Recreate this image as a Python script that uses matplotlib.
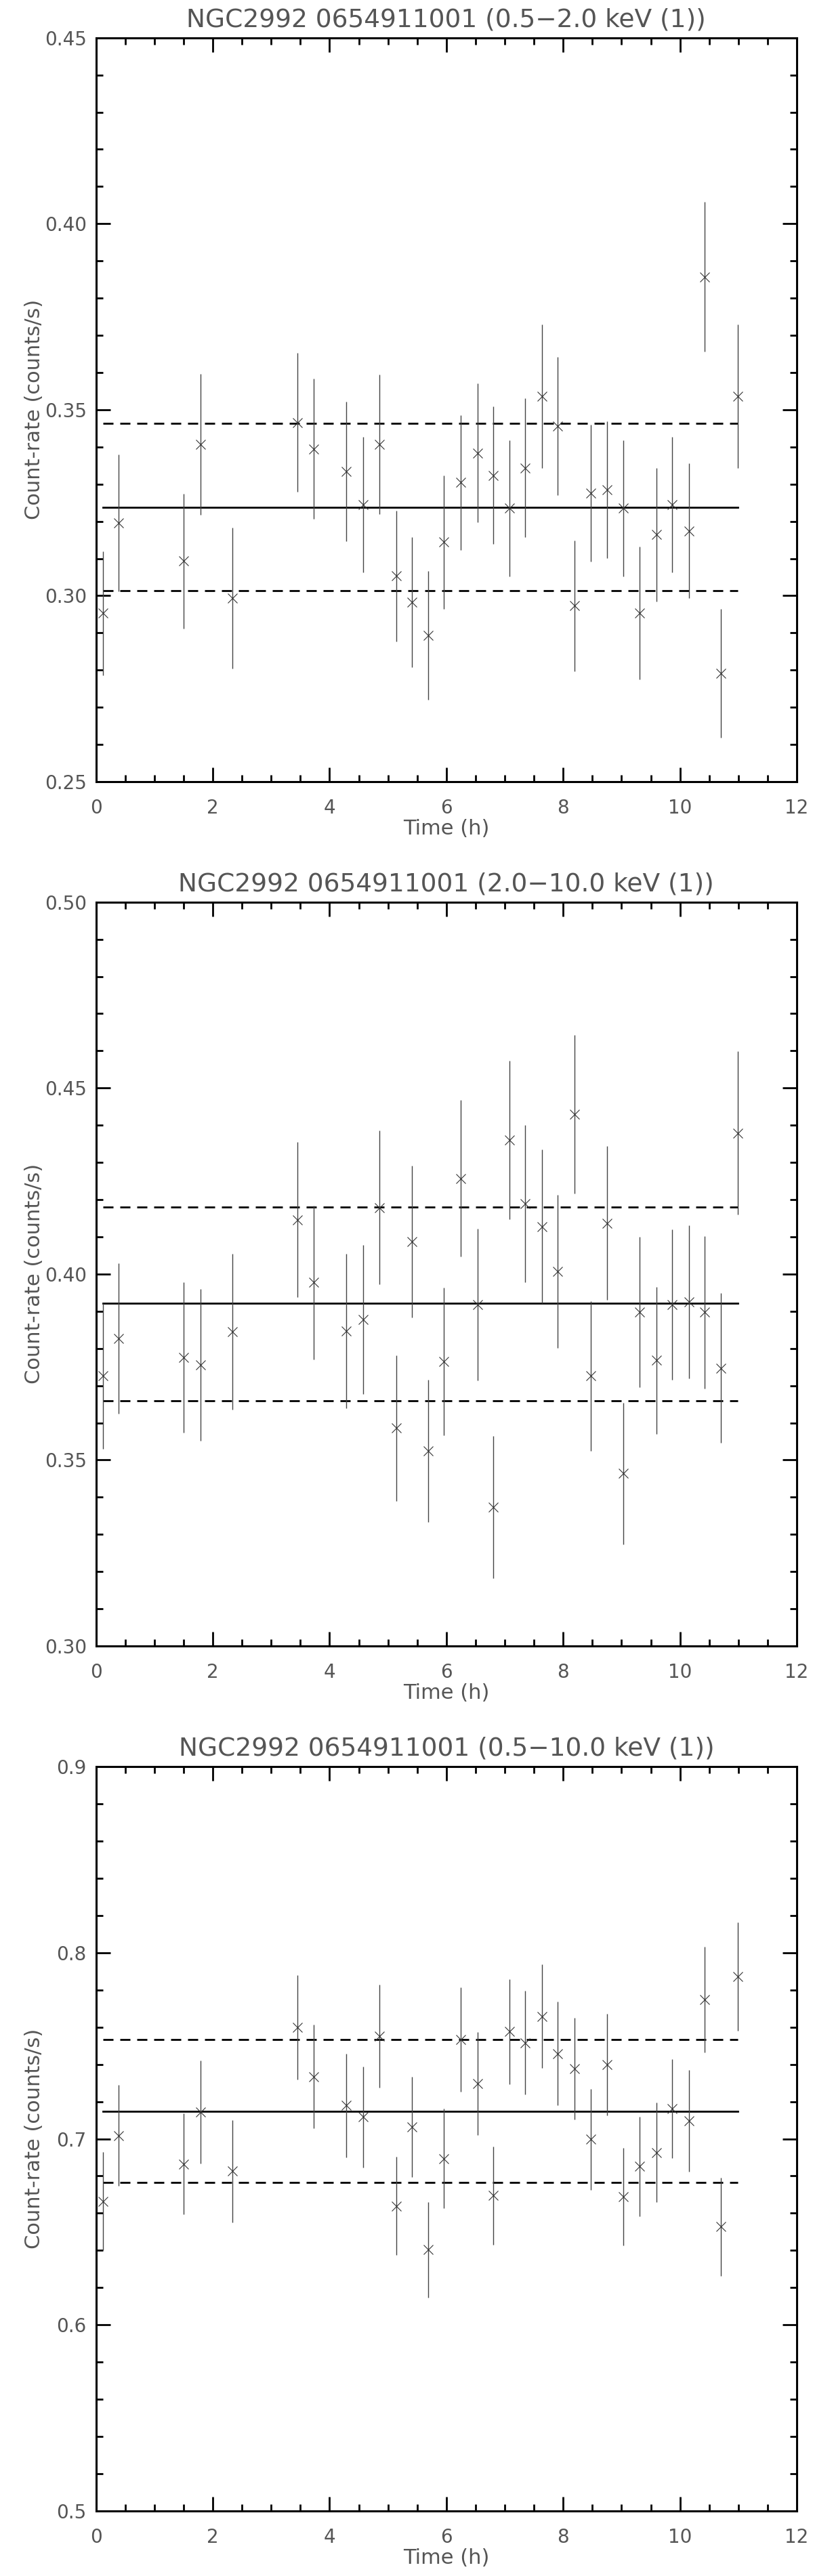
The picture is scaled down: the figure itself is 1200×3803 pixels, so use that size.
import matplotlib
matplotlib.use("Agg")
import matplotlib.pyplot as plt
from matplotlib.ticker import MultipleLocator, FormatStrFormatter

# Time bins (h), shared by the three bands
time_h = [0.12, 0.39, 1.50, 1.79, 2.34, 3.45, 3.73, 4.29, 4.57, 4.85, 5.14,
          5.41, 5.69, 5.96, 6.24, 6.53, 6.80, 7.08, 7.35, 7.64, 7.91, 8.19,
          8.47, 8.75, 9.03, 9.31, 9.60, 9.87, 10.15, 10.42, 10.70, 10.99]

# 0.5-2.0 keV
rate_soft = [0.2953, 0.3195, 0.3093, 0.3407, 0.2993, 0.3466, 0.3395, 0.3334,
             0.3244, 0.3407, 0.3053, 0.2983, 0.2894, 0.3144, 0.3304, 0.3384,
             0.3324, 0.3235, 0.3344, 0.3536, 0.3456, 0.2973, 0.3275, 0.3285,
             0.3235, 0.2953, 0.3164, 0.3245, 0.3174, 0.3857, 0.2792, 0.3536]
err_soft = [0.0167, 0.0184, 0.0181, 0.0190, 0.0189, 0.0187, 0.0188, 0.0187,
            0.0182, 0.0187, 0.0176, 0.0175, 0.0173, 0.0180, 0.0181, 0.0187,
            0.0184, 0.0183, 0.0186, 0.0193, 0.0186, 0.0176, 0.0184, 0.0184,
            0.0183, 0.0178, 0.0180, 0.0182, 0.0181, 0.0201, 0.0173, 0.0193]

# 2.0-10.0 keV
rate_hard = [0.3726, 0.3826, 0.3775, 0.3755, 0.3845, 0.4146, 0.3977, 0.3847,
             0.3878, 0.4179, 0.3586, 0.4087, 0.3525, 0.3765, 0.4257, 0.3918,
             0.3374, 0.4360, 0.4189, 0.4128, 0.4007, 0.4429, 0.3726, 0.4137,
             0.3464, 0.3897, 0.3768, 0.3918, 0.3925, 0.3897, 0.3747, 0.4379]
err_hard = [0.0196, 0.0202, 0.0202, 0.0204, 0.0209, 0.0208, 0.0206, 0.0207,
            0.0200, 0.0207, 0.0196, 0.0204, 0.0191, 0.0198, 0.0210, 0.0204,
            0.0191, 0.0213, 0.0211, 0.0207, 0.0205, 0.0213, 0.0201, 0.0207,
            0.0190, 0.0202, 0.0198, 0.0202, 0.0206, 0.0205, 0.0201, 0.0219]

# 0.5-10.0 keV
rate_full = [0.6665, 0.7018, 0.6865, 0.7144, 0.6827, 0.7599, 0.7335, 0.7179,
             0.7117, 0.7552, 0.6639, 0.7065, 0.6404, 0.6894, 0.7534, 0.7297,
             0.6695, 0.7576, 0.7517, 0.7658, 0.7458, 0.7376, 0.6997, 0.7399,
             0.6689, 0.6851, 0.6927, 0.7162, 0.7097, 0.7749, 0.6527, 0.7872]
err_full = [0.0264, 0.0272, 0.0272, 0.0278, 0.0275, 0.0280, 0.0279, 0.0278,
            0.0270, 0.0276, 0.0263, 0.0270, 0.0257, 0.0267, 0.0279, 0.0275,
            0.0264, 0.0282, 0.0279, 0.0279, 0.0278, 0.0273, 0.0272, 0.0272,
            0.0263, 0.0269, 0.0267, 0.0266, 0.0272, 0.0285, 0.0263, 0.0292]

# mean and +/- rms levels
mean_levels = [0.3238, 0.3921, 0.7147]
upper_levels = [0.3463, 0.4180, 0.7532]
lower_levels = [0.3014, 0.3660, 0.6765]

titles = ["NGC2992 0654911001 (0.5\u22122.0 keV (1))",
          "NGC2992 0654911001 (2.0\u221210.0 keV (1))",
          "NGC2992 0654911001 (0.5\u221210.0 keV (1))"]
ylims = [(0.25, 0.45), (0.30, 0.50), (0.5, 0.9)]
ymajor = [0.05, 0.05, 0.1]
yminor = [0.01, 0.01, 0.02]
yfmt = ["%.2f", "%.2f", "%.1f"]

rates = [rate_soft, rate_hard, rate_full]
errs = [err_soft, err_hard, err_full]

text_color = '#555555'
plt.rcParams['font.family'] = 'DejaVu Sans'

W, H = 1200, 3803
fig = plt.figure(figsize=(W / 100, H / 100), dpi=100)
fig.patch.set_facecolor('white')

left = 141.7 / W
width = (1176 - 141.7) / W
height = 1098.3 / H
bottoms = [1154, 2430, 3706.7]

for i in range(3):
    ax = fig.add_axes([left, 1 - bottoms[i] / H, width, height])

    ax.errorbar(time_h, rates[i], yerr=errs[i], fmt='x', color='#333333',
                ecolor='#444444', elinewidth=1.0, capsize=0,
                markersize=10.5, markeredgewidth=0.8, zorder=3)

    x0, x1 = time_h[0], time_h[-1]
    ax.plot([x0, x1], [mean_levels[i]] * 2, color='black', lw=2.0, zorder=2)
    ax.plot([x0, x1], [upper_levels[i]] * 2, color='black', lw=2.0,
            linestyle=(0, (5.4, 3.6)), zorder=2)
    ax.plot([x0, x1], [lower_levels[i]] * 2, color='black', lw=2.0,
            linestyle=(0, (5.4, 3.6)), zorder=2)

    ax.set_xlim(0, 12)
    ax.set_ylim(*ylims[i])
    ax.xaxis.set_major_locator(MultipleLocator(2))
    ax.xaxis.set_minor_locator(MultipleLocator(0.5))
    ax.yaxis.set_major_locator(MultipleLocator(ymajor[i]))
    ax.yaxis.set_minor_locator(MultipleLocator(yminor[i]))
    ax.yaxis.set_major_formatter(FormatStrFormatter(yfmt[i]))

    ax.tick_params(which='both', direction='in', top=True, right=True,
                   width=2.0, color='black', labelcolor=text_color)
    ax.tick_params(which='major', length=15, labelsize=20)
    ax.tick_params(which='minor', length=7.5)
    ax.tick_params(axis='x', which='major', pad=18)
    ax.tick_params(axis='y', which='major', pad=10)

    for sp in ax.spines.values():
        sp.set_linewidth(2.2)
        sp.set_color('black')

    ax.set_title(titles[i], fontsize=27, color=text_color, pad=12)
    ax.set_xlabel("Time (h)", fontsize=22, color=text_color)
    ax.set_ylabel("Count-rate (counts/s)", fontsize=22, color=text_color)
    ax.xaxis.set_label_coords(0.5, -0.050)
    ax.yaxis.set_label_coords(-0.074, 0.5)

fig.savefig("out.png", dpi=100, facecolor='white')
